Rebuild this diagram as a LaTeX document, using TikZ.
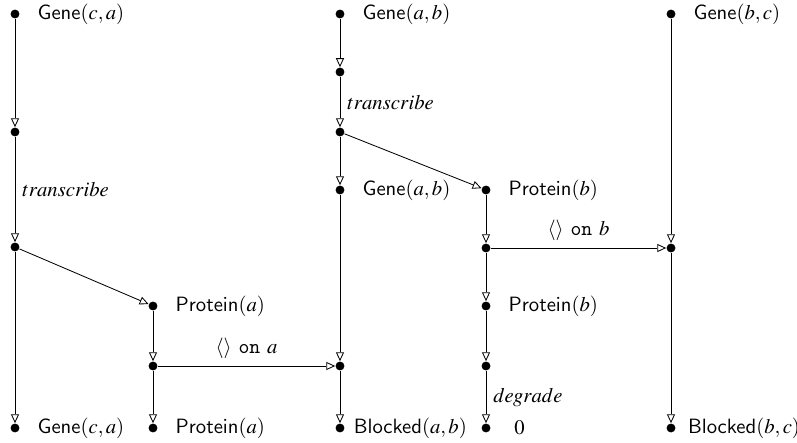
\documentclass[tikz,border=0pt]{standalone}
\usepackage{mathptmx}
\usetikzlibrary{arrows.meta}

\begin{document}
\begin{tikzpicture}[x=0.017cm,y=-0.017cm,>={Triangle[open,length=4.3pt,width=3.9pt]},
  pt/.style={circle,fill,inner sep=0pt,minimum size=4.3pt},
  lbl/.style={label={[label distance=5.1pt]right:#1}}]
  \useasboundingbox (0,0) rectangle (797,442);
  % gene (c,a)
  \node[pt,lbl={$\mathsf{Gene}(c,a)$}] (ca0) at (15,14) {};
  \node[pt] (ca1) at (15,132) {};
  \node[pt] (ca2) at (15,247) {};
  \node[pt,lbl={$\mathsf{Gene}(c,a)$}] (ca3) at (15,428) {};
  % protein a
  \node[pt,lbl={$\mathsf{Protein}(a)$}] (pa0) at (153,306) {};
  \node[pt] (pa1) at (153,366) {};
  \node[pt,lbl={$\mathsf{Protein}(a)$}] (pa2) at (153,428) {};
  % gene (a,b)
  \node[pt,lbl={$\mathsf{Gene}(a,b)$}] (ab0) at (340,14) {};
  \node[pt] (ab1) at (340,72) {};
  \node[pt] (ab2) at (340,132) {};
  \node[pt,lbl={$\mathsf{Gene}(a,b)$}] (ab3) at (340,190) {};
  \node[pt] (ab4) at (340,366) {};
  \node[pt,label={[label distance=0.8pt]right:$\mathsf{Blocked}(a,b)$}] (ab5) at (340,428) {};
  % protein b
  \node[pt,lbl={$\mathsf{Protein}(b)$}] (pb0) at (486,190) {};
  \node[pt] (pb1) at (486,248) {};
  \node[pt,lbl={$\mathsf{Protein}(b)$}] (pb2) at (486,306) {};
  \node[pt] (pb3) at (486,366) {};
  \node[pt,label={[label distance=7.8pt]right:$0$}] (pb4) at (486,428) {};
  % gene (b,c)
  \node[pt,lbl={$\mathsf{Gene}(b,c)$}] (bc0) at (671,14) {};
  \node[pt] (bc1) at (671,248) {};
  \node[pt,label={[label distance=2.4pt]right:$\mathsf{Blocked}(b,c)$}] (bc2) at (671,428) {};

  \draw[->] (ca0) -- (ca1);
  \draw[->] (ca1) -- node[right] {$transcribe$} (ca2);
  \draw[->] (ca2) -- (ca3);
  \draw[->] (ca2) -- (pa0);
  \draw[->] (pa0) -- (pa1);
  \draw[->] (pa1) -- (pa2);
  \draw[->] (pa1) -- node[above] {$\langle\rangle$ \texttt{on} $a$} (ab4);

  \draw[->] (ab0) -- (ab1);
  \draw[->] (ab1) -- node[right] {$transcribe$} (ab2);
  \draw[->] (ab2) -- (ab3);
  \draw[->] (ab3) -- (ab4);
  \draw[->] (ab4) -- (ab5);
  \draw[->] (ab2) -- (pb0);

  \draw[->] (pb0) -- (pb1);
  \draw[->] (pb1) -- (pb2);
  \draw[->] (pb2) -- (pb3);
  \draw[->] (pb3) -- node[right] {$degrade$} (pb4);
  \draw[->] (pb1) -- node[above] {$\langle\rangle$ \texttt{on} $b$} (bc1);

  \draw[->] (bc0) -- (bc1);
  \draw[->] (bc1) -- (bc2);
\end{tikzpicture}
\end{document}
